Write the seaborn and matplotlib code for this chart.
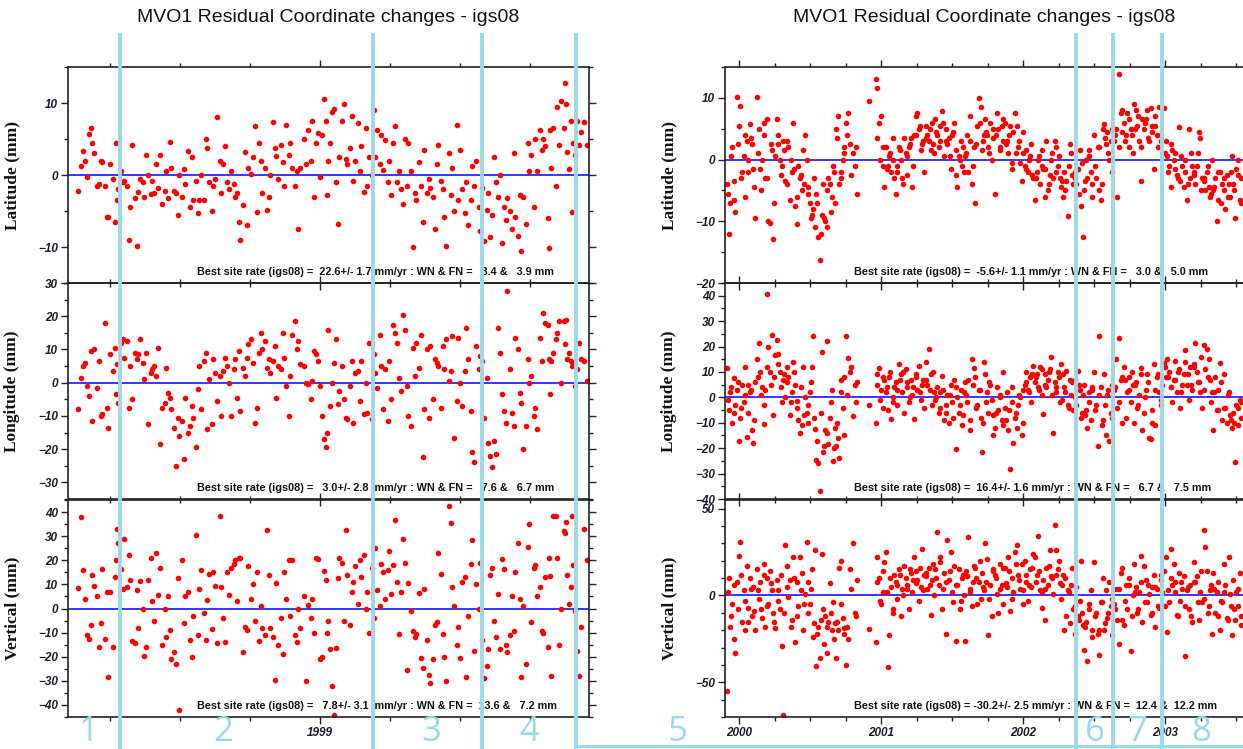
import matplotlib
matplotlib.use("Agg")
import matplotlib.pyplot as plt
import matplotlib.transforms as mtransforms
from matplotlib.lines import Line2D
from matplotlib.ticker import FixedLocator, FixedFormatter, NullFormatter
import numpy as np
import pandas as pd
import seaborn as sns

# ---------------------------------------------------------------------------
# MVO1 daily residuals, 1998.4 - 1999.6 (days counted from 1 Jan 1998), mm
# ---------------------------------------------------------------------------
days_9899 = [
    155, 157, 159, 161, 163, 164, 166, 167, 169, 171, 173, 175, 176, 178, 180, 181, 183, 185, 187, 188, 189, 190,
    192, 194, 195, 197, 199, 200, 202, 204, 206, 207, 209, 211, 212, 214, 216, 218, 219, 221, 223, 224,
    226, 228, 230, 231, 233, 235, 236, 238, 240, 242, 243, 245, 247, 248, 250, 252, 254, 255, 257, 259,
    260, 262, 264, 266, 267, 269, 271, 272, 274, 276, 278, 279, 281, 283, 284, 286, 288, 290, 291, 293,
    295, 296, 298, 300, 302, 303, 305, 307, 309, 310, 312, 314, 315, 317, 319, 321, 322, 324, 326, 327,
    329, 331, 333, 334, 336, 338, 339, 341, 343, 345, 346, 348, 351, 353, 355, 357, 358, 360, 362, 363,
    365, 367, 369, 370, 371, 372, 374, 376, 377, 379, 381, 382, 384, 386, 388, 389, 391, 393, 394, 396,
    398, 400, 401, 403, 405, 406, 408, 410, 412, 413, 415, 417, 418, 420, 422, 424, 425, 427, 429, 430,
    432, 434, 436, 437, 439, 441, 442, 444, 446, 448, 449, 451, 453, 455, 456, 458, 460, 461, 463, 465,
    467, 468, 470, 472, 473, 475, 477, 479, 480, 482, 484, 485, 487, 489, 491, 492, 494, 496, 497, 499,
    501, 503, 504, 506, 508, 510, 511, 513, 515, 516, 518, 520, 522, 523, 525, 527, 528, 530, 532, 534,
    535, 537, 539, 540, 542, 544, 546, 547, 549, 551, 552, 554, 556, 558, 559, 561, 563, 564, 565, 566,
    568, 570, 571, 573, 575, 577, 578, 579, 580, 582, 583, 584, 585, 587, 589, 590, 592, 595, 597,
]
lat_9899 = [
    -2.2, 1.2, 3.3, 2, -0.3, 5.7, 6.5, 4.5, 3, -1.5, -1.2, 2, 1.8, -1.5, -5.8, -5.9, 1.5, -0.5, -6.5, 4.5, -3.5, -2,
    0.5, -1, -0.8, -1.5, -9, -4.5, 4.2, -3.2, -9.8, -2.3, -0.5, -1, -3, 2.8, 0, -2.6, -0.8, -2.5, 1.5, -1.8,
    2.8, -4, -2.2, 0.5, -3.2, 4.6, 1, -2.2, -2.5, -5.6, 0, -3, 0.8, -1.2, 3.4, -4.5, 2.5, -3.5, -0.8, -5.3,
    -3.5, 0, -3.5, 5, 3.8, -1, -5, -1.5, -0.5, 8, 2, -2.5, 1.5, 4, -1, -2, 0.5, -1.3, -3, -2.5,
    -6.5, -9, -4.2, 3.2, -7, 1, 0.2, 2.5, 6.8, -5.2, 4.5, 2, -2.5, 1, -4.8, -3, 0, 7.4, 3.8, 2.7,
    -0.5, 4.2, 1.8, -1.5, 7, 2.8, 4.4, 1, -1.5, 0.5, -7.5, 1, 5, 1.5, 6.3, 2, 7.5, -3, 4.5, 5.8,
    -0.3, 5.6, 10.5, 7.5, -2.8, 2, 4.5, 8.8, 9.2, -1, -6.8, 2.5, 7.5, 9.8, 2.2, 1.5, 3.8, 8.2, -0.8, 2,
    7.2, 0.5, 4, -2.3, 6.5, -1.5, 2.5, 0, 9, 2.5, 6.2, 1.5, 5.5, 0.7, 4.8, -1, 2, -2.8, 4.5, 6.8,
    -1, 0.5, -2, -4, 5, -1.5, 4.5, 0.5, -10, -2.5, -3.5, 1.8, -1.5, -6.5, 3.5, -2.5, -0.5, -1.8, -3, -7.5,
    1.5, 4.2, -0.8, -2, -5.8, -9.8, 3, -2.8, 1, -5, 7, -3.5, 3.5, -2, -5.3, -1, -7, -3.5, 1.2, -1.5,
    2, -4.5, -7.8, -1.8, -9.2, -4.8, -2.5, -8.6, -5.5, 2.5, -1, -3, 0, -9.5, -4.5, -6.2, -3.2, -5, -7.5, 3.1,
    -5.8, -8.5, -2.8, -10.5, -3, -6.8, 4.5, 0.5, 2.8, -4.5, 5, 0.5, 6.2, 3.5, 5, 4, -6, -10.2, 6.3, 1,
    6.5, -1.5, 9.5, 4.2, 10.3, 6.5, 12.8, 9.8, 3.2, 0.8, 7.5, -5.2, 4.5, 2.8, 7.5, 4.2, 6, 7.3, 4.2,
]
lon_9899 = [
    -8, 1.5, 5, 6, -1, -4, 9.5, -11.5, 10, -1.5, 6.5, -10, -9.5, 18, -7.5, -13.5, 8.5, 3.5, 10.5, -3.5, 5.5, -6,
    12, 13, 7.5, 12.5, -7.5, 5, -5, 9, 7, 8.5, 13, 6, 1, 9, -12.5, 3, 4, 5, 2, 10.5,
    -18.5, -7.5, -6, 4.5, -3, -4.5, -8, -13.5, -25, -10.5, -16, -11.5, -23, -4.5, -15, -13, -7, -10.5, -19.5, -2,
    5, -8, 6.5, 9, -14, 1, -12.5, 7, 3, -5.5, 2, -10, 3.5, 7.5, 5, 0, -10, 4, 7, -4.5,
    9.5, -8.5, 4.5, 2, 7.5, 11.5, 13, 6, -12, -7.5, 9, 15, 10, 12.5, 4.5, 7, 3, 6.5, 11, -4.5,
    5, 4, 15, 7.5, -1, -10, 2, 14.5, 18.5, 10, 12.5, 5.5, 5, 0, -0.5, -5, 0.5, 9.5, 8.5, 6.5,
    -1, -10, -17, -19.5, -15, 16, -7, 0, 6, 13, -6.5, -2.5, 5, -5, -10.5, -11, -1, 6.5, -12, 3,
    3.5, -5.5, 6.5, -9.5, 0, -9, 12, -11, 8.5, 3, -1.5, 14.5, 5, -8, 4, -11.5, 6.5, -5, 17.5, 15,
    12, 1.5, -2.5, 20.5, 16, -1, -10, -13, 10.5, 2, 12, 4.5, 14.5, -22.5, -8, 10, -10.5, 11, -5, 7,
    6, 5, -7.5, 11, 4, 13, 0.5, 3.5, 14, -16.5, -5.5, 13.5, 0, -7, 3.5, 16.5, 7, -8.5, -21, -24,
    11, 4, 8, 6.5, -10.5, 1.5, -18, -22, -25.5, -17.5, -21.5, 16.5, 9, -3.5, -8.5, -12, 27.5, 4, -9, -13,
    13.5, 10, -3, -6, -20, -13, 7, 0, 2, -10, -7.5, -14, 13.5, 6.5, 21, 18, 17.5, 7, -3.5, 6.5,
    9, 13, 15, 18.5, 0, 18.5, 11.5, 19, 7, 9, 6.5, 5, 6, -1, 4, 12, 7, 6.5, 0.5,
]
vert_9899 = [
    8.5, 38, 16, 4, -11, -12.5, -7, 14, 9.5, 5, -16, -6, 16.5, -12.5, 7, -28.5, 7, -16, 13, 20, 33, 27,
    16.5, 8, 29, 9, 22, 12, -13.5, -14.5, 7.5, -8, 11.5, 0, -19.5, -16, 12, 21, 3, -5, 23, 5.5,
    17, -15, 0, -12, 5, -9, -21, -18, -23, 12.5, -42, 20, -6, 5, 7, -13, -20, -3, 30.5, -11,
    8, 16, -2, -13, 3.5, 14.5, -8.5, 15, 9.5, -14.5, 38.5, 9, -4, -14, 15, 5.5, 17, 18.5, 20, 3,
    21, 21, -18, -7.5, -9, 17.5, 4, 10, -5, 15, -13.5, 1, -8, -11, 32.5, 14, -8, -12, -29.5, 10.5,
    -15, -4, -19, 15, 4, 20, -3, 20, -11, -14, 0, -8, 5, -30, 1.5, -4, 4, -10, 21, 20.5,
    -21, -20, 15.5, 12, -10, -5, -17, -32, -44, -16.5, 12.5, 21, 19, -5, 32.5, 14, -7, 7, 11, 17.5,
    2, 20, 13, 22, 0, 7, -10, 17, -4, 25, 7.5, 1, 18.5, 15, 4, 16, 24, 6, 18, 36.5,
    11, -10.5, 7, 29, 19, -25.5, 10.5, -1, -9.5, -12, -10.5, 6.5, -20.5, -24.5, 8, -13, -27.5, -31, -21, -7,
    -5.5, 23, 14.5, -10.5, -20, -30, 42.5, 35.5, 9, 1, -15, -7.5, -20.5, 11, 13, -28.5, -3, 18.5, 28.5, -17.5,
    10, 0, 19, -13, -29, -24, -17, 14, 17, -5, -12, 6, -17, 20.5, 16.5, -15, -18, -11, 5, -9.5,
    15, 27, 4, -28.5, 1, -23, 25.5, 35, -5.5, 17, 18, 5, 9, -9.5, -10, 13, -16, 21, 13.5, -28,
    38.5, 38.5, 21, -15, 0, 32, 31.5, 36, 14, 2, 9, 38.5, 18, -1, -17.5, -28, -7.5, 33, 20,
]

# ---------------------------------------------------------------------------
# MVO1 daily residuals, 2000 - 2003.5 (days counted from 1 Jan 2000), mm
# ---------------------------------------------------------------------------
days_0003 = [
    -32, -28, -24, -19, -15, -11, -6, -2, 2, 7, 11, 15, 19, 23, 27, 32, 36, 40,
    45, 49, 53, 58, 62, 66, 70, 74, 78, 83, 87, 91, 96, 100, 104, 109, 113, 117,
    121, 125, 129, 134, 138, 142, 147, 151, 155, 160, 164, 168, 173, 177, 181, 186, 190, 194,
    198, 202, 206, 211, 215, 219, 224, 228, 232, 237, 241, 245, 249, 253, 257, 262, 266, 270,
    275, 280, 285, 291, 296, 301, 334,
    351, 355, 359, 364, 368, 372, 377, 381, 385, 390, 394, 398, 402, 406, 410, 415, 419, 423,
    428, 432, 436, 441, 445, 449, 453, 457, 461, 466, 470, 474, 479, 483, 487, 492, 496, 500,
    504, 508, 512, 517, 521, 525, 530, 534, 538, 543, 547, 551, 556, 560, 564, 569, 573, 577,
    581, 585, 589, 594, 598, 602, 607, 611, 615, 620, 624, 628, 632, 636, 640, 645, 649, 653,
    658, 662, 666, 671, 675, 679, 683, 687, 691, 696, 700, 704, 709, 713, 717, 722, 726, 730,
    734, 738, 742, 747, 751, 755, 760, 764, 768, 773, 777, 781, 785, 789, 793, 798, 802, 806,
    811, 815, 819, 824, 828, 832, 836, 840, 844, 849, 853, 857, 862, 866, 870, 875, 879, 883,
    887, 891, 895, 900, 904, 908, 913, 917, 921, 926, 930, 934, 938, 942, 946, 951, 955, 959,
    964, 968, 972, 977, 981, 985, 990, 994, 998, 1003, 1007, 1011, 1015, 1019, 1023, 1028, 1032, 1036,
    1041, 1045, 1049, 1054, 1058, 1062, 1066, 1070, 1074, 1079, 1083, 1087, 1092, 1096, 1100, 1105, 1109, 1113,
    1117, 1121, 1125, 1130, 1134, 1138, 1143, 1147, 1151, 1156, 1160, 1164, 1168, 1172, 1176, 1181, 1185, 1189,
    1194, 1198, 1202, 1207, 1211, 1215, 1219, 1223, 1227, 1232, 1236, 1240, 1245, 1249, 1253, 1258, 1262, 1266,
    1270, 1274, 1278, 1283, 1287, 1291,
    -30, -21, -13, -4, 5, 13, 21, 30, 38, 47, 56, 64, 72, 81, 89, 98, 107, 115,
    123, 132, 140, 149, 158, 166, 175, 184, 192, 200, 209, 217, 226, 235, 243, 251, 260, 268,
    277, 288, 299,
    353, 362, 370, 379, 388, 396, 404, 413, 421, 430, 439, 447, 455, 464, 472, 481, 490, 498,
    506, 515, 523, 532, 541, 549, 558, 567, 575, 583, 592, 600, 609, 618, 626, 634, 643, 651,
    660, 669, 677, 685, 694, 702, 711, 720, 728, 736, 745, 753, 762, 771, 779, 787, 796, 804,
    813, 822, 830, 838, 847, 855, 864, 873, 881, 889, 898, 906, 915, 924, 932, 940, 949, 957,
    966, 975, 983, 992, 1001, 1009, 1017, 1026, 1034, 1043, 1052, 1060, 1068, 1077, 1085, 1094, 1103, 1111,
    1119, 1128, 1136, 1145, 1154, 1162, 1170, 1179, 1187, 1196, 1205, 1213, 1221, 1230, 1238, 1247, 1256, 1264,
    1272, 1281, 1289,
]
lat_0003 = [
    -4, -12, -7, 2, -3.5, -8.5, 10.2, 5.5, 8.7, -2, 0.5, -6, 3, -2, 5.8, 2.5, -1.5, -9.5,
    10.1, 5, -1.5, 0, 6, -3, 6.5, -10, -10.2, 1.5, -12.8, 0.5, 6.5, 2.5, 0, -1, 3, -3.5,
    3, 2, -6.5, -2, 6, -7.5, -10.5, -1, -3, -5, 1.5, 4, 0, -4.5, -7, -9, -8, -11,
    -5.5, -12.5, -16.2, -9, -4, -10, -11, -3, -4, -6, -1, -7, 5, 7, -4, -3, 0, 2,
    6, 7.5, 2.5, 1, -1, -5.5, 9.5,
    13, 11.6, 6, 7, 2, -4.5, 2, -1, 0.5, -2, 3.5, -3, -5.5, -1, 2, 0, -3, 3.5,
    1, -2.5, 2, 3.5, -4.5, 4, 7, 7.5, 5, 1.5, 2.5, -2, 5.5, 4, 3, 1.5, 6, 1,
    6.5, 4, 2, 5.5, 7.8, 0.5, 5, 2.5, 3.5, -1.5, 4, 6, 1.5, -4.5, 0.5, 3, -1, -2,
    0.5, 4, -2, 7, -4, 2, -7, 5.5, 10, 8.5, 1.5, 4, 6.5, 4, 2, 6, 0, 3.5,
    -5.5, 7.5, 5, 2, 5.5, 3, 6, 3, 1, 5.5, -1.5, 4.5, 7.5, 5.5, 2, -0.5, -3.5, 1,
    -1, 1.5, -2, 0.5, 2.5, -3, -6.5, -2, 0, -4, 1.5, -1.5, -6, 3, -5, -2.5, 0, -3,
    3, 2, -1, -3, -4.5, -6, -2, -3.5, -9.2, 2.5, 1, -4, -2, -4, -1.5, 1.5, -7.5, -12.5,
    -5, 0, -3, 1.5, -2, -6, 4, -3, 2, -5, -6.5, 5, 5.8, 2.5, 4.5, 0, 3, -2,
    3, 5, -6, 13.8, 7.5, 4.5, 6, 4, 7.5, 2, 5, 1, 9, 8, 5.5, 3, -3.5, 6.5,
    5, 6.5, 8, 3, 8.3, 4.5, -1.5, 7, 4, 8.5, 3, 1, 8.3, 3, 0.5, -1, -4.5, 1.5,
    0, 1, -2.5, 5.2, -3.5, -1, -4.5, 0, -6.5, 5, -3, -1, -2, -4, -1, 4.5, 3.5, -3,
    -3, -5, -2, -4.5, -6, 0, -5, -3, -10, -6.5, -2, -4, -5, -8, -2.5, -4, -6, 0.5,
    -4, -9.5, -1.5, 0, -6.5, -3,
    -5.5, 0.5, -6.5, 2.5, -3, 4, 0, 3.5, -4.5, 1, -5, 4, -3, 2.5, -7, 4, -2.5, 1.5,
    -4, 0, -1.5, -6, -2.5, -4, -5.5, -9.5, -3, -7, -12, -9.5, -5, -8.5, -2, 3.5, -2, 1,
    4, -2.5, 2,
    3.5, 0, -1, -1.5, 1, 0, -2, 1.5, -4, 0.5, 2.5, -1, 4, 5.5, 3, 3.5, 5, 2.5,
    4.5, 3, 6, 3, 0.5, 4.5, -2.5, 0, 2, 1, 3, -1, 2.5, 6, 3, 4.5, 1, 5,
    4, 1.5, 6.5, 2.5, 4, -0.5, 1, 3, 4.5, -1.5, 0, -2.5, -3, 0.5, -1, -1.5, -4, 1,
    -2, 0.5, -3.5, -5, -1, -2.5, -3, -5.5, -0.5, -3.5, 0.5, -4, -1, 2, -4, 3.5, 1, 5,
    4, 2, 8, 3, 6.5, 4, 5, 7, 2, 6, 3.5, 5.5, 5.5, 2, 4, 1, -2, 2.5,
    -1.5, -3, 0.5, -2, -4, 1, -2.5, 1, -5, -3.5, -1, -5.5, -4.5, -2, -7, -3, -6, -2,
    -5, -2.5, -7,
]
lon_0003 = [
    11.5, -5, 2, -10, 7.5, -3, 3, -17, -8, 5, -2, 12, -15.5, 5, 2, -13, -18, 6,
    15, 21.5, 10, 4, -10.5, 3, 40.5, 20, 10, 24.5, -7, 16.5, 22.5, 17, 10, -2, 7, 0,
    12, 8, -7, 2, 14, 5, -1.5, -9, -14, -11, 12, 0, -6, -10, 2, 12, 24, -12.5,
    -24.5, -26, -37, 18, -21.5, -13, 22, -18.5, -8, 3, -25, -12, -19, -16, -24, 7, -4, 8,
    24, 15.5, 10, -7.5, 5, 6, -3,
    -10, 9, 11.5, 3, -4, 7, 2, -5, 8, -8.5, 0, 4, 6, -3, 13, 9, 2, -6,
    11, 4, -2, 7, 1, -8.5, 8, 3, 12.5, -1, 5, -4, 14, 5, 19, 9, -3, 2,
    -1, 4, -6, 2, 8.5, -9, -3, 1, -10, 5, -2, 7, -20.5, 0, -6, 3, -11, 2,
    6, -2, 7, -13, 15, 11.5, 8, -3, 3, -8, -21.5, 14, 9, 2, -6, 5, -1, -15,
    -12, 4, -5, 1, -9, 10, -4, 2, -13, -28, 4, -18, -8, -12, -3, 0, -15, 3,
    5, 10, 3, 8, -2, 12.5, 6, 9, 4, 12, 1, -6.5, 9, 4, 7, 11, 16, -14,
    6, 2, 10, -2, 13, 9, 4, 10.5, -3, 7, 1, -5, 7, -3, 10.5, 3, -8, 1,
    5, -5, -12, 2, -9, 4, 10, -3, -19, 24, 4, -9, 9, -15, 1, -17, -6, 5,
    3, 15, -4, 23.5, 7, -10, 12, -8, 2, 8, -2, 5, -10, 6, -4, 1, 11.5, -13,
    -6, 3, 9, -16, -16.5, -10, 13, -11, 8, 2, -3, 5, 13.5, 8, 15, 10, 4, -2,
    7, 14.5, 2, 11, -4, 5, 9, 18.5, 5, -1, 12, 3, 13, 21.5, 10, 6, 2, -4,
    20.5, 11, 19, 15, 7, 2, -13, 8, -5, 3, 13.5, -9, 9, -4, -10, 2, -7, -12,
    -6, -25.5, -3, -11, -1, -8,
    -1, 4, -6, 6, -4, 1, -6, 3, -9, 8, 1, -3, 12, 5, 8, 13, 4, 9,
    6, -2, 10, -4, 4, -7, -3, 6, -8, -17, -6, -19, -14, -2, -20, -10, 2, -15,
    1, 12, -2,
    5, -1, 8, 4, 10, -2, 3, 7, 10, 6, 0, 4, 9, 2, 7, 7, 3, 10,
    0, -4, 3, -6, 1, -8, 4, -3, -7, 1, -9, 5, -4, 3, -10, -2, 6, -7,
    -6, 0, -11, -9, -5, -2, -6, 1, -10, 6, 2, 9, 8, 3, 11, 5, 10, 1,
    4, 8, -1, 2, -4, 6, 0, 5, -6, -7, -2, 3, -5, 1, -11, -3, 3, -8,
    4, -2, 8, 7, 3, 10, 5, -3, 9, 0, 6, -5, 3, 9, -1, 12, 8, 4,
    7, 10, 2, 14, 9, 5, 12, 6, 16, 3, 8, -2, 2, -5, 6, -4, 1, -9,
    -10, -4, -2,
]
vert_0003 = [
    -55, 10, -18, -5, -25, -33, 8, 23, 31, -15, 3, -20, 17, -7, 10, -12, 5, -20,
    15, -2, 8, -13, 12, -18, 10, -5, 14, 3, -10, -19, 9, 3, -8, -29, -69, 29,
    17, -1, 9, -14, 22, -27, 8, -6, 22, 13, -20, 1, 31, 8, -5, 15, -24, 26,
    -40.5, -18, -36, 24, -8, -12, -33, -15, 7, -20, -4, -16, -36, -20, 16, 20, -13, -22,
    -40, -25, 15, 30, -10, 9, -19.5,
    -27, 22, 10, -5, 2, 19, 25, -41, -23, 5, -8, 12, 8, -2, 15, -12, 4, 17,
    10, 6, -8, 13, 2, 22, 14, 9, -3, 5, 27, 12, 11, 4, 16, -11, 9, 0,
    15, 36.5, 6, 22, -8, 13, -22, 32, 9, 25, 2, 17, -26, 6, 15, -3, 10, 0,
    -26, 11, 33.5, 4, -6, 17, 16, -5, 8, -2, 13, 3, 30, 21, -22.5, 6, -12, 14,
    12, 1, -10, 18, 6, -5, 16, 5, 22, -9, 10, 2, 25, 29, 12, 4, 18, -5,
    20, 8, -3, 15, 5, 24, 22, 12, 34.5, 3, -7, 9, -14, 16, 6, 26, 11, 1,
    40.5, 26, 15, 7, -2, 12, -20, -12, 3, -16, 6, -8, -22, 5, -12, -3, 20, -17,
    -31.5, -15, -38, -5, 3, -20, 19, -10, -22, -34.5, -4, 10, -20, 3, -13, 8, -6, -23,
    -5, 4, -14, -28, 13, 16, -17, 6, -8, 10, -32, 0, 18, 5, -10, 2, 23, -15,
    17, 9, -4, 1, -11, 5, 12, -18, 4, -7, 9, 2, 14, 22, -21, -4, 27, 6,
    18, 8, -11, 13, -3, 4, 11, -35, 3, -8, 6, -15, 19, 8, 11, -14, 2, -4,
    38, 28, 14, -6, 3, -22, 13, -10, 2, 8, -20, -4, 18, 6, -13, 22, 1, -23,
    9, -14, 2, -6, 13, -17,
    2, -12, 6, -8, 12, -3, -15, 4, -9, 3, -8, 18, -6, 7, -15, -3, 12, -10,
    5, -18, 10, -12, 3, -5, -10, 4, -16, -22, -14, -28, -18, -10, -25, -15, -5, -19,
    -18, 4, -12,
    8, -3, 14, 2, 10, -10, 6, 12, 0, 4, 15, 9, 7, 16, 3, 13, 6, 18,
    10, 19, 4, 8, 14, -4, 6, -8, 12, 14, 2, 8, 10, 20, 5, 8, -2, 15,
    10, 4, 16, 7, 14, -2, 18, 9, 3, 12, 6, 16, 8, 14, 2, 4, 17, 10,
    12, 20, 6, 10, 2, 16, -6, -14, -10, -18, -8, -24, -12, -20, -4, -16, -10, -2,
    -8, 4, -14, -3, 6, -12, 2, -8, 8, -4, 6, -10, 5, -6, 12, -6, 3, 10,
    2, -12, 8, -6, 5, -12, 8, -4, 14, -2, -10, 6, 4, -12, -3, 2, -14, -6,
    -8, 4, -12,
]

rate_text_9899 = [
    "Best site rate (igs08) =  22.6+/- 1.7 mm/yr : WN & FN =   3.4 &   3.9 mm",
    "Best site rate (igs08) =   3.0+/- 2.8  mm/yr : WN & FN =   7.6 &   6.7 mm",
    "Best site rate (igs08) =   7.8+/- 3.1  mm/yr : WN & FN =  13.6 &   7.2 mm",
]
rate_text_0003 = [
    "Best site rate (igs08) =  -5.6+/- 1.1 mm/yr : WN & FN =   3.0 &   5.0 mm",
    "Best site rate (igs08) =  16.4+/- 1.6 mm/yr : WN & FN =   6.7 &   7.5 mm",
    "Best site rate (igs08) = -30.2+/- 2.5 mm/yr : WN & FN =  12.4 &  12.2 mm",
]
components = ["Latitude", "Longitude", "Vertical"]
title_text = "MVO1 Residual Coordinate changes - igs08"

# segment boundaries (decimal year) and segment numbers
breaks_9899 = [1998.524, 1999.126, 1999.386, 1999.610]
breaks_0003 = [2002.370, 2002.630, 2002.975]
segment_labels_9899 = [("1", 1998.45), ("2", 1998.769), ("3", 1999.264), ("4", 1999.498), ("5", 1999.852)]
segment_labels_0003 = [("6", 2002.504), ("7", 2002.799), ("8", 2003.250)]

# ---------------------------------------------------------------------------
df_9899 = pd.DataFrame({"year": 1998 + np.array(days_9899) / 365.25,
                        "Latitude": lat_9899, "Longitude": lon_9899, "Vertical": vert_9899})
df_0003 = pd.DataFrame({"year": 2000 + np.array(days_0003) / 365.25,
                        "Latitude": lat_0003, "Longitude": lon_0003, "Vertical": vert_0003})

sns.set_theme(style="ticks")
plt.rcParams["font.family"] = ["Liberation Sans", "DejaVu Sans"]

W, H = 1243, 749
fig = plt.figure(figsize=(W / 100, H / 100), dpi=100)


def box(x0, y0, x1, y1):
    return [x0 / W, 1 - y1 / H, (x1 - x0) / W, (y1 - y0) / H]


rows = [(67, 283), (283, 499), (500, 717)]
cols = {
    "left": dict(x=(68, 589), df=df_9899, xlim=(1998.4, 1999.64),
                 xmajor=[1999], xlabels=["1999"],
                 xminor=[1998.5, 1998 + 8 / 12, 1998 + 10 / 12, 1999 + 2 / 12, 1999 + 4 / 12, 1999.5],
                 ylims=[(-15, 15), (-35, 30), (-45, 45)],
                 ymajor=[[-10, 0, 10], list(range(-30, 31, 10)), list(range(-40, 41, 10))],
                 yminor_step=[5, 5, 5], texts=rate_text_9899),
    "right": dict(x=(725, 1245), df=df_0003, xlim=(1999.898, 2003.560),
                  xmajor=[2000, 2001, 2002, 2003], xlabels=["2000", "2001", "2002", "2003"],
                  xminor=[y + q for y in range(1999, 2004) for q in (0.25, 0.5, 0.75)],
                  ylims=[(-20, 15), (-40, 45), (-70, 55)],
                  ymajor=[[-20, -10, 0, 10], list(range(-40, 41, 10)), [-50, 0, 50]],
                  yminor_step=[5, 5, 10], texts=rate_text_0003),
}

axes_by_col = {}
for key, c in cols.items():
    axs = []
    for i, comp in enumerate(components):
        ax = fig.add_axes(box(c["x"][0], rows[i][0], c["x"][1], rows[i][1]))
        ax.set_facecolor("none")
        ax.axhline(0, color="#0000ff", lw=1.1, zorder=1)
        sns.scatterplot(data=c["df"], x="year", y=comp, ax=ax, color="#ff0000",
                        s=16, linewidth=0, marker="o", legend=False, zorder=2)
        ax.set_xlim(*c["xlim"])
        ax.set_ylim(*c["ylims"][i])
        ax.xaxis.set_major_locator(FixedLocator(c["xmajor"]))
        ax.xaxis.set_minor_locator(FixedLocator(c["xminor"]))
        lo, hi = c["ylims"][i]
        step = c["yminor_step"][i]
        ax.yaxis.set_major_locator(FixedLocator(c["ymajor"][i]))
        ax.yaxis.set_minor_locator(FixedLocator(
            [v for v in range(int(np.ceil(lo / step) * step), hi + 1, step) if v not in c["ymajor"][i]]))
        if i == 2:
            ax.xaxis.set_major_formatter(FixedFormatter(c["xlabels"]))
        else:
            ax.xaxis.set_major_formatter(NullFormatter())
        ax.tick_params(axis="both", which="both", direction="out", top=True, right=True,
                       color="#222222", width=1.0)
        ax.tick_params(axis="both", which="major", length=5, pad=2)
        ax.tick_params(axis="both", which="minor", length=3)
        for lab in ax.get_xticklabels() + ax.get_yticklabels():
            lab.set_fontfamily(["Liberation Sans", "DejaVu Sans"])
            lab.set_fontweight("bold")
            lab.set_fontstyle("italic")
            lab.set_fontsize(8.5)
            lab.set_color("#1c1c2c")
        for sp in ax.spines.values():
            sp.set_visible(True)
            sp.set_linewidth(1.2)
            sp.set_color("#222222")
        ax.set_xlabel("")
        ax.set_ylabel(f"{comp} (mm)", family=["Liberation Serif", "DejaVu Serif"],
                      weight="bold", fontsize=12.5, color="#111111")
        ax.yaxis.set_label_coords(-0.092, 0.5)
        ax.text(0.248, 11 / 216, c["texts"][i], transform=ax.transAxes, va="center", ha="left",
                family=["Liberation Sans", "DejaVu Sans"], weight="bold",
                fontsize=7.8, color="#111111", zorder=3)
        axs.append(ax)
    axes_by_col[key] = axs
    xc = (c["x"][0] + c["x"][1]) / 2 / W if key == "left" else (725 + W) / 2 / W
    fig.text(xc, 1 - 18 / H, title_text, ha="center", va="center", fontsize=14,
             family=["Liberation Sans", "DejaVu Sans"], color="#111111")

# segment markers drawn over the panels
seg_color = "#9dd8e8"
for key, breaks, labels in (("left", breaks_9899, segment_labels_9899),
                            ("right", breaks_0003, segment_labels_0003)):
    ax = axes_by_col[key][2]
    trans = mtransforms.blended_transform_factory(ax.transData, fig.transFigure)
    for xb in breaks:
        fig.add_artist(Line2D([xb, xb], [1 - 33 / H, 0], transform=trans, color=seg_color,
                              lw=2.8, zorder=10, solid_capstyle="butt"))
    for txt, xl in labels:
        fig.text(xl, 1 - 732 / H, txt, transform=trans, ha="center", va="center",
                 fontsize=25, color=seg_color, family=["Open Sans", "DejaVu Sans"], zorder=10)

# bracket running from the last 1999 boundary to the right edge
ax_l = axes_by_col["left"][2]
x0_fig = fig.transFigure.inverted().transform(ax_l.transData.transform((breaks_9899[-1], 0)))[0]
fig.add_artist(Line2D([x0_fig, 1.0], [1 - 746 / H, 1 - 746 / H], transform=fig.transFigure,
                      color=seg_color, lw=2.2, zorder=10))

fig.savefig("out.png", dpi=100)
